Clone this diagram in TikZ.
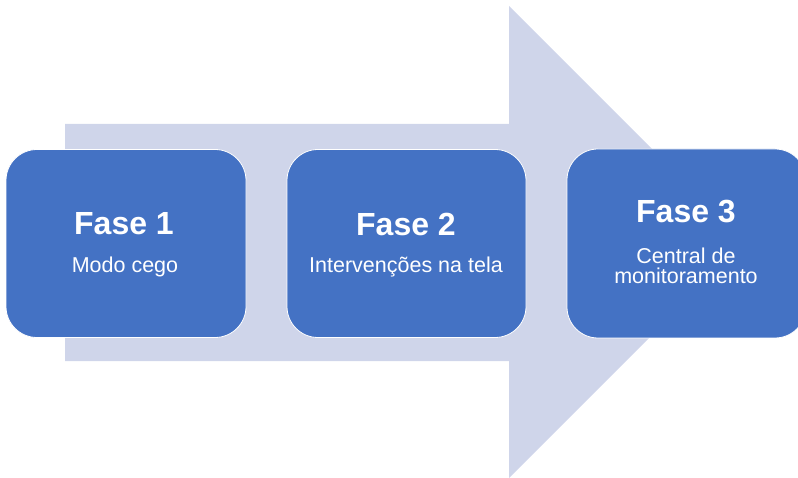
\documentclass[tikz,border=0pt]{standalone}
\usepackage{fontspec}
\setmainfont{Liberation Sans}
\definecolor{phasefill}{HTML}{4472C4}
\definecolor{arrowfill}{HTML}{CFD5EA}
\begin{document}
\begin{tikzpicture}[x=1pt,y=-1pt,
  phasebox/.style={draw=white,line width=0.8pt,fill=phasefill,rounded corners=31pt,
    inner sep=0pt,outer sep=0pt,minimum width=240pt,minimum height=188pt},
  title/.style={anchor=base,text=white,font=\bfseries\fontsize{32}{36}\selectfont,inner sep=0pt},
  subtitle/.style={anchor=base,text=white,font=\fontsize{21.5}{20}\selectfont,inner sep=0pt,align=center}]
\useasboundingbox (0,0) rectangle (798,478);
\clip (0,0) rectangle (798,478);
% large background arrow
\fill[arrowfill] (65,124) -- (509,124) -- (509,6) -- (745,242) -- (509,478) -- (509,361) -- (65,361) -- cycle;
% phase boxes
\node[phasebox] (box1) at (126,243.5) {};
\node[phasebox,minimum width=239pt] (box2) at (406.5,243.5) {};
\node[phasebox,minimum width=239pt,minimum height=189pt] (box3) at (686.5,243.5) {};
% labels
\node[title] (t1) at (124,235) {Fase 1};
\node[subtitle] (s1) at (125,273) {Modo cego};
\node[title] (t2) at (406,236) {Fase 2};
\node[subtitle] (s2) at (406,273) {Intervenções na tela};
\node[title] (t3) at (686,223) {Fase 3};
\node[subtitle] (s3a) at (686,264) {Central de};
\node[subtitle] (s3b) at (686,284) {monitoramento};
\end{tikzpicture}
\end{document}
